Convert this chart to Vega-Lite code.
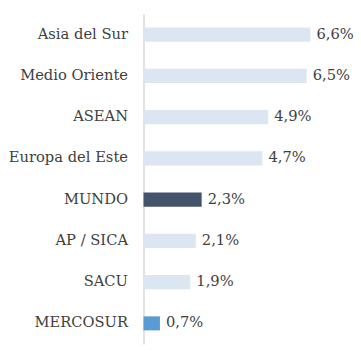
{
  "$schema": "https://vega.github.io/schema/vega-lite/v6.json",
  "autosize": "none",
  "width": 215,
  "height": 330,
  "padding": {"left": 143.5, "top": 14, "right": 2.5, "bottom": 14},
  "background": "white",
  "data": {"values": [
    {"region": "Asia del Sur", "value": 6.6, "label": "6,6%", "grp": "otro"},
    {"region": "Medio Oriente", "value": 6.45, "label": "6,5%", "grp": "otro"},
    {"region": "ASEAN", "value": 4.93, "label": "4,9%", "grp": "otro"},
    {"region": "Europa del Este", "value": 4.7, "label": "4,7%", "grp": "otro"},
    {"region": "MUNDO", "value": 2.3, "label": "2,3%", "grp": "mundo"},
    {"region": "AP / SICA", "value": 2.07, "label": "2,1%", "grp": "otro"},
    {"region": "SACU", "value": 1.85, "label": "1,9%", "grp": "otro"},
    {"region": "MERCOSUR", "value": 0.65, "label": "0,7%", "grp": "mercosur"}
  ]},
  "encoding": {
    "y": {
      "field": "region", "type": "nominal", "sort": null,
      "scale": {"paddingInner": 0.66, "paddingOuter": 0.33},
      "axis": {
        "title": null, "ticks": false, "labelPadding": 16,
        "labelFont": "DejaVu Serif", "labelFontSize": 14.7, "labelColor": "#404040",
        "domainColor": "#d9d9d9", "domainWidth": 1.5
      }
    },
    "x": {
      "field": "value", "type": "quantitative",
      "scale": {"domain": [0, 8.5], "nice": false},
      "axis": null
    }
  },
  "layer": [
    {
      "mark": {"type": "bar"},
      "encoding": {
        "color": {
          "field": "grp", "type": "nominal", "legend": null,
          "scale": {"domain": ["otro", "mundo", "mercosur"], "range": ["#dce6f2", "#44546a", "#5b9bd5"]}
        }
      }
    },
    {
      "mark": {"type": "text", "align": "left", "baseline": "middle", "dx": 6, "font": "DejaVu Serif", "fontSize": 14.7, "color": "#404040"},
      "encoding": {"text": {"field": "label"}}
    }
  ],
  "config": {"view": {"stroke": null}}
}
